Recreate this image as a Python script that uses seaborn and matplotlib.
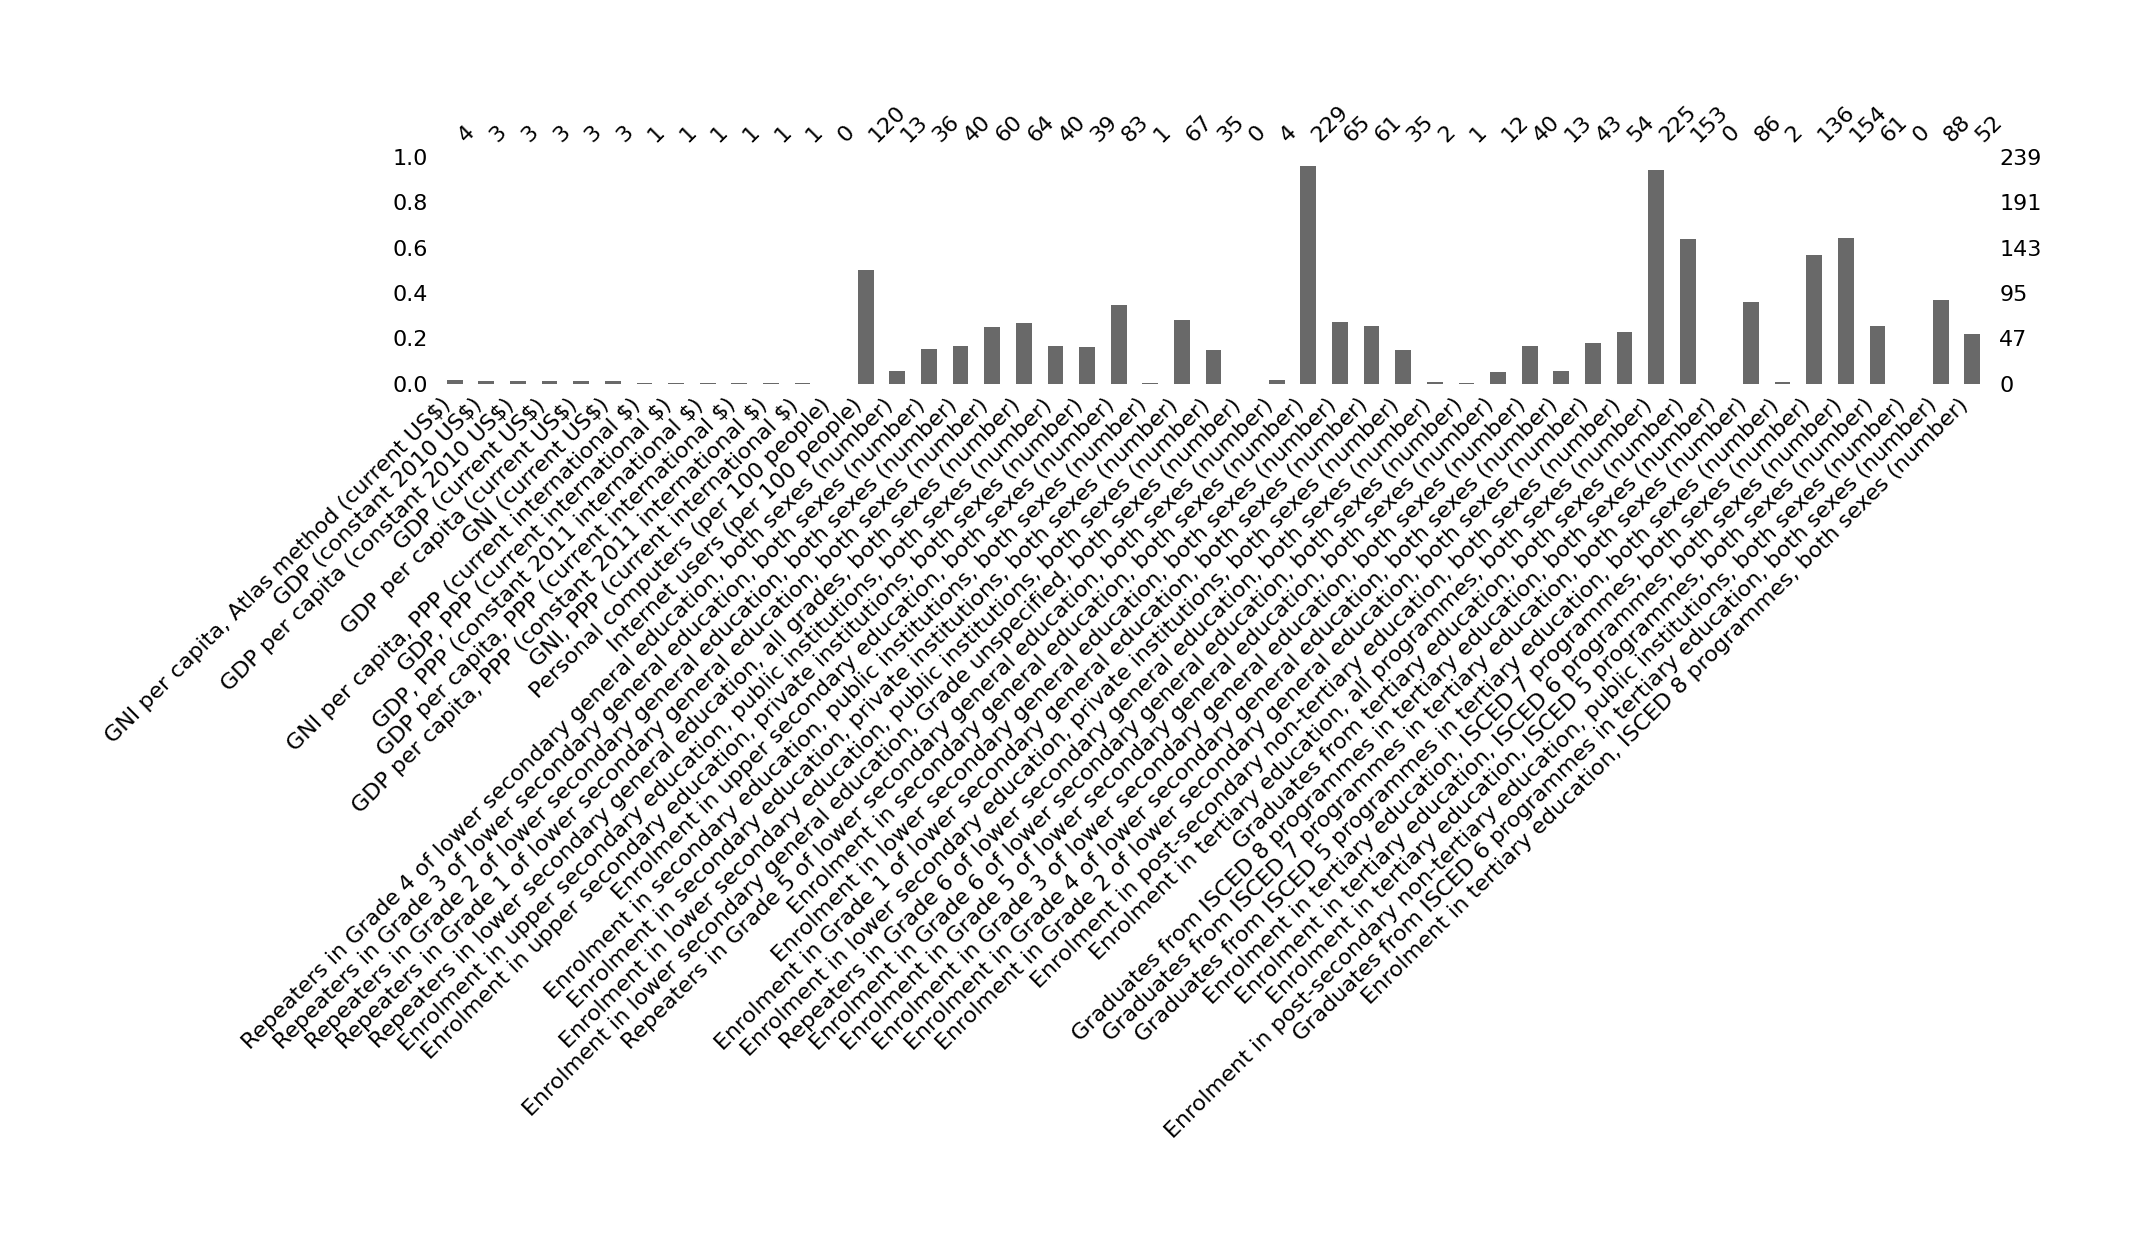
import numpy as np
import pandas as pd
import seaborn as sns
import matplotlib
matplotlib.use("Agg")
import matplotlib.pyplot as plt

TOTAL_ROWS = 239

COLUMNS = [
    "GNI per capita, Atlas method (current US$)",
    "GDP (constant 2010 US$)",
    "GDP per capita (constant 2010 US$)",
    "GDP (current US$)",
    "GDP per capita (current US$)",
    "GNI (current US$)",
    "GNI per capita, PPP (current international $)",
    "GDP, PPP (current international $)",
    "GDP, PPP (constant 2011 international $)",
    "GDP per capita, PPP (current international $)",
    "GDP per capita, PPP (constant 2011 international $)",
    "GNI, PPP (current international $)",
    "Personal computers (per 100 people)",
    "Internet users (per 100 people)",
    "Repeaters in Grade 4 of lower secondary general education, both sexes (number)",
    "Repeaters in Grade 3 of lower secondary general education, both sexes (number)",
    "Repeaters in Grade 2 of lower secondary general education, both sexes (number)",
    "Repeaters in Grade 1 of lower secondary general education, both sexes (number)",
    "Repeaters in lower secondary general education, all grades, both sexes (number)",
    "Enrolment in upper secondary education, public institutions, both sexes (number)",
    "Enrolment in upper secondary education, private institutions, both sexes (number)",
    "Enrolment in upper secondary education, both sexes (number)",
    "Enrolment in secondary education, public institutions, both sexes (number)",
    "Enrolment in secondary education, private institutions, both sexes (number)",
    "Enrolment in lower secondary education, public institutions, both sexes (number)",
    "Enrolment in lower secondary general education, Grade unspecified, both sexes (number)",
    "Repeaters in Grade 5 of lower secondary general education, both sexes (number)",
    "Enrolment in secondary general education, both sexes (number)",
    "Enrolment in lower secondary general education, both sexes (number)",
    "Enrolment in Grade 1 of lower secondary general education, both sexes (number)",
    "Enrolment in lower secondary education, private institutions, both sexes (number)",
    "Repeaters in Grade 6 of lower secondary general education, both sexes (number)",
    "Enrolment in Grade 6 of lower secondary general education, both sexes (number)",
    "Enrolment in Grade 5 of lower secondary general education, both sexes (number)",
    "Enrolment in Grade 3 of lower secondary general education, both sexes (number)",
    "Enrolment in Grade 4 of lower secondary general education, both sexes (number)",
    "Enrolment in Grade 2 of lower secondary general education, both sexes (number)",
    "Enrolment in post-secondary non-tertiary education, both sexes (number)",
    "Enrolment in tertiary education, all programmes, both sexes (number)",
    "Graduates from tertiary education, both sexes (number)",
    "Graduates from ISCED 8 programmes in tertiary education, both sexes (number)",
    "Graduates from ISCED 7 programmes in tertiary education, both sexes (number)",
    "Graduates from ISCED 5 programmes in tertiary education, both sexes (number)",
    "Enrolment in tertiary education, ISCED 7 programmes, both sexes (number)",
    "Enrolment in tertiary education, ISCED 6 programmes, both sexes (number)",
    "Enrolment in tertiary education, ISCED 5 programmes, both sexes (number)",
    "Enrolment in post-secondary non-tertiary education, public institutions, both sexes (number)",
    "Graduates from ISCED 6 programmes in tertiary education, both sexes (number)",
    "Enrolment in tertiary education, ISCED 8 programmes, both sexes (number)",
]

# non-null counts per column
COUNTS = [4, 3, 3, 3, 3, 3, 1, 1, 1, 1, 1, 1, 0, 120,
          13, 36, 40, 60, 64, 40, 39, 83, 1, 67, 35, 0,
          4, 229, 65, 61, 35, 2, 1, 12, 40, 13, 43, 54, 225, 153, 0,
          86, 2, 136, 154, 61, 0, 88, 52]

LEFT_TICKS = [0.0, 0.2, 0.4, 0.6, 0.8, 1.0]

FONTSIZE = 16
BAR_COLOR = "dimgray"


if __name__ == "__main__":
    df = pd.DataFrame({"column": COLUMNS, "count": COUNTS})
    df["fraction"] = df["count"] / TOTAL_ROWS

    sns.set_style("white")
    plt.rcParams["font.family"] = ["DejaVu Sans"]
    plt.rcParams["text.color"] = "black"
    plt.rcParams["xtick.color"] = "black"
    plt.rcParams["ytick.color"] = "black"

    fig = plt.figure(figsize=(21.4, 12.4), dpi=100)
    ax1 = fig.add_axes([0.2051, 0.6907, 0.7239, 0.1827])

    sns.barplot(data=df, x="column", y="fraction", order=COLUMNS,
                color=BAR_COLOR, width=0.5, saturation=1, linewidth=0, ax=ax1)
    ax1.set_xlim(-0.5, len(COLUMNS) - 0.5)
    ax1.set_ylim(0, 1)
    ax1.set_xlabel("")
    ax1.set_ylabel("")
    ax1.set_yticks(LEFT_TICKS)
    ax1.set_yticklabels(["{:.1f}".format(t) for t in LEFT_TICKS], fontsize=FONTSIZE)
    ax1.set_xticks(range(len(COLUMNS)))
    ax1.set_xticklabels(COLUMNS, rotation=45, ha="right", fontsize=FONTSIZE)
    ax1.tick_params(length=0, pad=8, colors="black")

    # right axis: absolute counts
    ax2 = ax1.twinx()
    ax2.set_ylim(0, 1)
    ax2.set_yticks(LEFT_TICKS)
    ax2.set_yticklabels([int(t * TOTAL_ROWS) for t in LEFT_TICKS], fontsize=FONTSIZE)
    ax2.tick_params(length=0, pad=8, colors="black")

    # top axis: count per bar
    ax3 = ax1.twiny()
    ax3.set_xlim(ax1.get_xlim())
    ax3.set_xticks(range(len(COLUMNS)))
    ax3.set_xticklabels(COUNTS, rotation=45, ha="left", fontsize=FONTSIZE)
    ax3.tick_params(length=0, pad=8, colors="black")

    for ax in [ax1, ax2, ax3]:
        for s in ax.spines.values():
            s.set_visible(False)

    fig.savefig("out.png", dpi=100)
